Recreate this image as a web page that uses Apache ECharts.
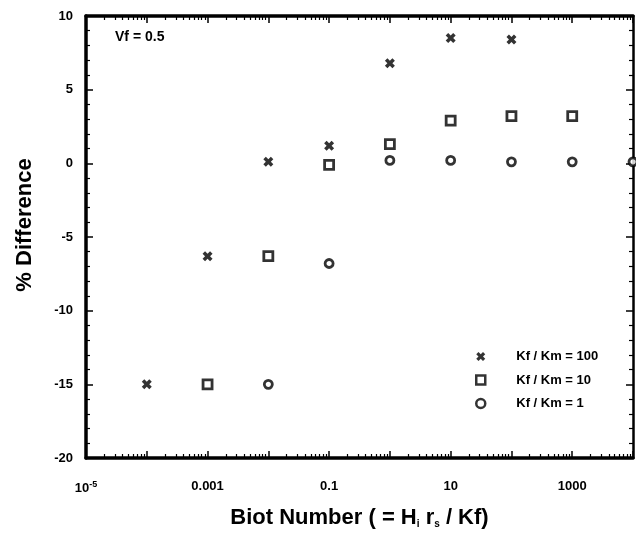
<!DOCTYPE html>
<html>
<head>
<meta charset="utf-8">
<script src="https://cdn.jsdelivr.net/npm/echarts@6/dist/echarts.min.js"></script>
<style>html,body{margin:0;padding:0;background:#fff}#c{width:636px;height:537px}</style>
</head>
<body>
<div id="c"></div>
<script>
// ---- data ----
var biot100 = [1e-4, 1e-3, 0.01, 0.1, 1, 10, 100];
var diff100 = [-15, -6.3, 0.1, 1.2, 6.8, 8.5, 8.4];
var biot10 = [1e-3, 0.01, 0.1, 1, 10, 100, 1000];
var diff10 = [-15, -6.3, -0.1, 1.3, 2.9, 3.2, 3.2];
var biot1 = [0.01, 0.1, 1, 10, 100, 1000, 1e4];
var diff1 = [-15, -6.8, 0.2, 0.2, 0.1, 0.1, 0.1];
var seriesNames = ['Kf / Km = 100', 'Kf / Km = 10', 'Kf / Km = 1'];
var xTickExps = [-5, -3, -1, 1, 3];
var xTickLabels = ['{b|10}{sup|-5}', '0.001', '0.1', '10', '1000'];
var yTicks = [-20, -15, -10, -5, 0, 5, 10];

var FONT = "'Liberation Sans', Arial, sans-serif";
function pts(xs, ys) { return xs.map(function (x, i) { return [Math.log10(x), ys[i]]; }); }
var minorX = [];
for (var e = -5; e < 4; e++) { for (var k = 2; k <= 9; k++) { minorX.push(e + Math.log10(k)); } }
var majorX = []; for (var e2 = -5; e2 <= 4; e2++) majorX.push(e2);

var crossPath = 'path://M0,2.5 L2.5,0 L5,2.5 L7.5,0 L10,2.5 L7.5,5 L10,7.5 L7.5,10 L5,7.5 L2.5,10 L0,7.5 L2.5,5 Z';

function xAxisBase(pos, extra) {
  var a = {
    type: 'value', position: pos, min: -5, max: 4, interval: 1,
    splitLine: { show: false },
    axisLine: { show: false, onZero: false },
    axisTick: { show: false },
    axisLabel: { show: false }
  };
  for (var key in extra) a[key] = extra[key];
  return a;
}

var chart = echarts.init(document.getElementById('c'));
chart.setOption({
  animation: false,
  backgroundColor: '#fff',
  grid: { left: 86, right: 3, top: 16, bottom: 79, containLabel: false },
  graphic: [{
    type: 'text', left: 115, top: 30,
    style: { text: 'Vf = 0.5', font: 'bold 14px ' + FONT, fill: '#000' }
  }],
  legend: {
    orient: 'vertical', left: 470, top: 345, itemWidth: 9, itemHeight: 9, itemGap: 10.5,
    textStyle: { fontFamily: FONT, fontWeight: 'bold', fontSize: 13, color: '#000', lineHeight: 13, padding: [0, 0, 0, 26] },
    data: [
      { name: seriesNames[0], icon: crossPath, itemStyle: { color: '#000' } },
      { name: seriesNames[1], icon: 'rect', itemStyle: { color: '#fff', borderColor: '#000', borderWidth: 2.5 } },
      { name: seriesNames[2], icon: 'circle', itemStyle: { color: '#fff', borderColor: '#000', borderWidth: 2.5 } }
    ]
  },
  xAxis: [
    xAxisBase('bottom', {
      axisLine: { show: true, onZero: false, lineStyle: { color: '#000', width: 3.5 } },
      axisTick: { show: true, inside: true, length: 7, customValues: majorX, lineStyle: { color: '#000', width: 1.5 } },
      axisLabel: {
        show: true, margin: 22, customValues: xTickExps, color: '#000',
        fontFamily: FONT, fontWeight: 'bold', fontSize: 13,
        formatter: function (v) { var i = xTickExps.indexOf(Math.round(v)); return i >= 0 ? xTickLabels[i] : ''; },
        rich: {
          b: { fontFamily: FONT, fontWeight: 'bold', fontSize: 13, color: '#000' },
          sup: { fontFamily: FONT, fontWeight: 'bold', fontSize: 9, color: '#000', padding: [0, 0, 8, 0] }
        }
      },
      name: '{n|Biot Number ( = H}{s|i}{n| r}{s|s}{n| / Kf)}',
      nameLocation: 'middle', nameGap: 48,
      nameTextStyle: {
        rich: {
          n: { fontFamily: FONT, fontWeight: 'bold', fontSize: 22, color: '#000' },
          s: { fontFamily: FONT, fontWeight: 'bold', fontSize: 10, color: '#000', padding: [13, 0, 0, 0] }
        }
      }
    }),
    xAxisBase('bottom', {
      axisTick: { show: true, inside: true, length: 4, customValues: minorX, lineStyle: { color: '#000', width: 1.2 } }
    }),
    xAxisBase('top', {
      axisLine: { show: true, onZero: false, lineStyle: { color: '#000', width: 3.5 } },
      axisTick: { show: true, inside: true, length: 7, customValues: majorX, lineStyle: { color: '#000', width: 1.5 } }
    }),
    xAxisBase('top', {
      axisTick: { show: true, inside: true, length: 4, customValues: minorX, lineStyle: { color: '#000', width: 1.2 } }
    })
  ],
  yAxis: [
    {
      type: 'value', position: 'left', min: -20, max: 10, interval: 5,
      splitLine: { show: false },
      axisLine: { show: true, onZero: false, lineStyle: { color: '#000', width: 3.5 } },
      axisTick: { show: true, inside: true, length: 7, lineStyle: { color: '#000', width: 1.5 } },
      minorTick: { show: true, splitNumber: 5, length: 4, lineStyle: { color: '#000', width: 1.2 } },
      axisLabel: {
        margin: 13, color: '#000', fontFamily: FONT, fontWeight: 'bold', fontSize: 13,
        customValues: yTicks
      },
      name: '% Difference', nameLocation: 'middle', nameGap: 50,
      nameTextStyle: { fontFamily: FONT, fontWeight: 'bold', fontSize: 22, color: '#000', padding: [0, 0, 0, 24] }
    },
    {
      type: 'value', position: 'right', min: -20, max: 10, interval: 5,
      splitLine: { show: false },
      axisLine: { show: true, onZero: false, lineStyle: { color: '#000', width: 2.5 } },
      axisTick: { show: true, inside: true, length: 7, lineStyle: { color: '#000', width: 1.5 } },
      minorTick: { show: true, splitNumber: 5, length: 4, lineStyle: { color: '#000', width: 1.2 } },
      axisLabel: { show: false }
    }
  ],
  series: [
    {
      name: seriesNames[0], type: 'scatter', xAxisIndex: 0, yAxisIndex: 0,
      symbol: crossPath, symbolSize: 10, clip: false,
      itemStyle: { color: '#000' },
      data: pts(biot100, diff100)
    },
    {
      name: seriesNames[1], type: 'scatter', xAxisIndex: 0, yAxisIndex: 0,
      symbol: 'rect', symbolSize: 9, clip: false,
      itemStyle: { color: '#fff', borderColor: '#000', borderWidth: 2.8 },
      data: pts(biot10, diff10)
    },
    {
      name: seriesNames[2], type: 'scatter', xAxisIndex: 0, yAxisIndex: 0,
      symbol: 'circle', symbolSize: 8, clip: false,
      itemStyle: { color: '#fff', borderColor: '#000', borderWidth: 2.8 },
      data: pts(biot1, diff1)
    }
  ]
});
</script>
</body>
</html>
